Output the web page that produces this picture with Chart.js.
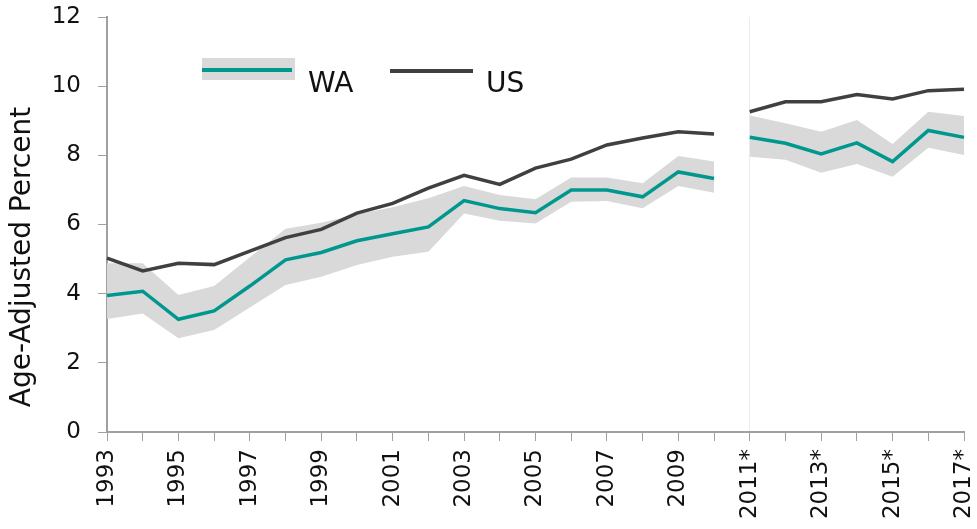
<!DOCTYPE html>
<html>
<head>
<meta charset="utf-8">
<script src="https://cdn.jsdelivr.net/npm/chart.js@4/dist/chart.umd.min.js"></script>
<style>
  html, body { margin: 0; padding: 0; background: #fff; }
  #wrap { width: 977px; height: 529px; position: relative; }
</style>
</head>
<body>
<div id="wrap"><canvas id="rateChart"></canvas></div>
<script>
// years on the x axis; 2011 onward are marked with *
const years = ['1993', '1994', '1995', '1996', '1997', '1998', '1999', '2000', '2001', '2002',
    '2003', '2004', '2005', '2006', '2007', '2008', '2009', '2010',
    '2011*', '2012*', '2013*', '2014*', '2015*', '2016*', '2017*'];

const waRate = [3.95, 4.07, 3.26, 3.5, 4.22, 4.98, 5.19, 5.53, 5.73, 5.93,
    6.69, 6.46, 6.34, 7.0, 7.0, 6.8, 7.52, 7.33,
    8.52, 8.35, 8.04, 8.36, 7.82, 8.72, 8.52];
const waUpper = [4.88, 4.88, 3.96, 4.22, 5.05, 5.88, 6.05, 6.3, 6.5, 6.76,
    7.11, 6.85, 6.73, 7.36, 7.36, 7.19, 7.98, 7.82,
    9.15, 8.93, 8.68, 9.02, 8.33, 9.26, 9.14];
const waLower = [3.27, 3.43, 2.71, 2.95, 3.6, 4.25, 4.49, 4.83, 5.07, 5.21,
    6.32, 6.11, 6.03, 6.66, 6.68, 6.47, 7.11, 6.92,
    7.96, 7.87, 7.5, 7.75, 7.38, 8.22, 8.01];
const usRate = [5.03, 4.66, 4.88, 4.84, 5.23, 5.62, 5.86, 6.33, 6.61, 7.05,
    7.42, 7.16, 7.63, 7.89, 8.3, 8.5, 8.68, 8.62,
    9.26, 9.55, 9.55, 9.76, 9.63, 9.87, 9.91];

const yTicks = [0, 2, 4, 6, 8, 10, 12];

// survey method changed in 2011, so the series is split there
const breakIndex = 18;
function before(arr) { return arr.map((v, i) => i < breakIndex ? v : null); }
function after(arr) { return arr.map((v, i) => i >= breakIndex ? v : null); }

const teal = '#00978f';
const dark = '#404040';
const band = '#d9d9d9';
const axisGrey = '#a0a0a0';
const fontFamily = '"DejaVu Sans", sans-serif';

function bandSet(data, fill) {
    return { data: data, borderWidth: 0, pointRadius: 0, backgroundColor: band, fill: fill, spanGaps: false };
}
function lineSet(data, color) {
    return { data: data, borderColor: color, borderWidth: 3.5, pointRadius: 0, fill: false, tension: 0, spanGaps: false };
}

// Legend + y title drawn straight on the canvas (band behind the WA line)
const legendPlugin = {
    id: 'customLegend',
    afterDraw(chart) {
        const c = chart.ctx;
        c.save();
        c.fillStyle = band;
        c.fillRect(202, 58, 93, 22);
        c.strokeStyle = teal;
        c.lineWidth = 4;
        c.beginPath(); c.moveTo(202, 70); c.lineTo(292, 70); c.stroke();
        c.strokeStyle = dark;
        c.beginPath(); c.moveTo(390, 71); c.lineTo(473, 71); c.stroke();
        c.fillStyle = '#111';
        c.font = '28px ' + fontFamily;
        c.textBaseline = 'alphabetic';
        c.fillText('WA', 308, 92);
        c.fillText('US', 486, 92);

        // y axis title
        c.translate(30, 257);
        c.rotate(-Math.PI / 2);
        c.textAlign = 'center';
        c.font = '28px ' + fontFamily;
        c.fillText('Age-Adjusted Percent', 0, 0);
        c.restore();
    }
};

document.addEventListener('DOMContentLoaded', function () {
    const ctx = document.getElementById('rateChart').getContext('2d');
    new Chart(ctx, {
        type: 'line',
        data: {
            labels: years,
            datasets: [
                lineSet(before(usRate), dark),
                lineSet(after(usRate), dark),
                lineSet(before(waRate), teal),
                lineSet(after(waRate), teal),
                bandSet(before(waLower), false),
                bandSet(before(waUpper), '-1'),
                bandSet(after(waLower), false),
                bandSet(after(waUpper), '-1')
            ]
        },
        options: {
            responsive: true,
            maintainAspectRatio: false,
            animation: false,
            layout: { padding: 0 },
            plugins: {
                legend: { display: false },
                tooltip: { enabled: false }
            },
            scales: {
                x: {
                    offset: false,
                    grid: {
                        drawOnChartArea: true,
                        color: (c) => c.index === breakIndex ? '#ececec' : 'rgba(0,0,0,0)',
                        tickColor: axisGrey,
                        tickLength: 9,
                        lineWidth: 1
                    },
                    border: { color: axisGrey, width: 2 },
                    ticks: {
                        autoSkip: false,
                        minRotation: 90,
                        maxRotation: 90,
                        color: '#111',
                        padding: 8,
                        font: { family: fontFamily, size: 23 },
                        callback: function (v, i) { return i % 2 === 0 ? years[i] : ''; }
                    },
                    afterFit: (s) => { s.height = 97; s.paddingLeft = 0; s.paddingRight = 13; }
                },
                y: {
                    min: 0,
                    max: 12,
                    afterBuildTicks: (s) => { s.ticks = yTicks.map(v => ({ value: v })); },
                    grid: {
                        drawOnChartArea: false,
                        tickColor: axisGrey,
                        tickLength: 9
                    },
                    border: { color: axisGrey, width: 2 },
                    ticks: {
                        color: '#111',
                        padding: 17,
                        font: { family: fontFamily, size: 23 }
                    },
                    afterFit: (s) => { s.width = 107; s.paddingTop = 17; s.paddingBottom = 0; }
                }
            }
        },
        plugins: [legendPlugin]
    });
});
</script>
</body>
</html>
